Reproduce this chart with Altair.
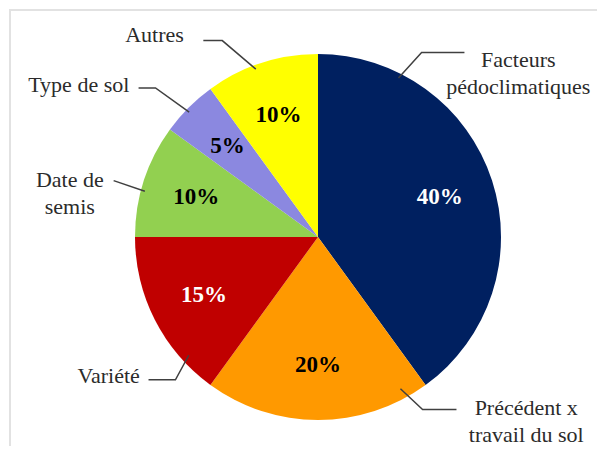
import math
import altair as alt
import pandas as pd

# ---------------- data ----------------
categories = [
    "Facteurs pédoclimatiques",
    "Précédent x travail du sol",
    "Variété",
    "Date de semis",
    "Type de sol",
    "Autres",
]
values = [40, 20, 15, 10, 5, 10]

# ---------------- styling / layout ----------------
colors = ["#002060", "#FF9900", "#C00000", "#92D050", "#8B88E0", "#FFFF00"]
white_text = ["Facteurs pédoclimatiques", "Variété"]
FONT = "Liberation Serif"
W, H = 589, 438            # whole chart (padding 0)
CX, CY, R = 309, 228, 183  # pie centre and radius in the view
R_PCT = 128                # radius of the percentage labels
R_LEAD = 178               # where leader lines touch the pie

# wrapped label text, label centre, leader attachment (fraction along slice)
# and leader elbow/end points (annotation layout, as placed in the original)
label_text = {
    "Facteurs pédoclimatiques": "Facteurs\npédoclimatiques",
    "Précédent x travail du sol": "Précédent x\ntravail du sol",
    "Variété": "Variété",
    "Date de semis": "Date de\nsemis",
    "Type de sol": "Type de sol",
    "Autres": "Autres",
}
label_pos = {
    "Facteurs pédoclimatiques": (511, 52),
    "Précédent x travail du sol": (519, 405),
    "Variété": (100, 372),
    "Date de semis": (61, 173),
    "Type de sol": (70, 77),
    "Autres": (146, 26),
}
leader_frac = {
    "Facteurs pédoclimatiques": 0.19,
    "Précédent x travail du sol": 0.11,
    "Variété": 0.19,
    "Date de semis": 0.39,
    "Type de sol": 0.44,
    "Autres": 0.44,
}
leader_path = {
    "Facteurs pédoclimatiques": [(414, 44), (457, 44)],
    "Précédent x travail du sol": [(415, 406), (449, 406)],
    "Variété": [(167, 376), (140, 376)],
    "Date de semis": [(105, 174)],
    "Type de sol": [(147, 80), (130, 80)],
    "Autres": [(214, 32), (195, 32)],
}

# ---------------- tables ----------------
df = pd.DataFrame({"category": categories, "value": values, "idx": list(range(len(categories)))})
df["pct"] = df["value"].astype(str) + "%"

total = sum(values)
rows = []
cum = 0
for c, v in zip(categories, values):
    a0 = cum / total * 360.0
    a1 = (cum + v) / total * 360.0
    cum += v
    ang = math.radians(a0 + leader_frac[c] * (a1 - a0))
    start = (CX + R_LEAD * math.sin(ang), CY - R_LEAD * math.cos(ang))
    for k, (px, py) in enumerate([start] + leader_path[c]):
        rows.append({"category": c, "k": k, "px": px, "py": py})
lead_df = pd.DataFrame(rows)

lab_df = pd.DataFrame({
    "category": categories,
    "text": [label_text[c] for c in categories],
    "px": [label_pos[c][0] for c in categories],
    "py": [label_pos[c][1] for c in categories],
})

xs = alt.Scale(domain=[0, W], nice=False, zero=False)
ys = alt.Scale(domain=[0, H], nice=False, zero=False, reverse=True)

# ---------------- marks ----------------
frame_df = pd.DataFrame({"a": [0]})
frame_left = alt.Chart(frame_df).mark_rule(color="#e2e2e2", strokeWidth=2).encode(
    x=alt.value(1), y=alt.value(0), y2=alt.value(H)
)
frame_top = alt.Chart(frame_df).mark_rule(color="#e2e2e2", strokeWidth=2).encode(
    x=alt.value(0), x2=alt.value(W), y=alt.value(1)
)

pie = alt.Chart(df).mark_arc(outerRadius=R).encode(
    theta=alt.Theta("value:Q", stack=True),
    order=alt.Order("idx:Q"),
    color=alt.Color("category:N", scale=alt.Scale(domain=categories, range=colors), legend=None),
    x=alt.value(CX),
    y=alt.value(CY),
)

pct = alt.Chart(df).mark_text(
    radius=R_PCT, font=FONT, fontSize=23, fontWeight="bold"
).encode(
    theta=alt.Theta("value:Q", stack=True),
    order=alt.Order("idx:Q"),
    text="pct:N",
    color=alt.condition(
        alt.FieldOneOfPredicate(field="category", oneOf=white_text),
        alt.value("white"),
        alt.value("black"),
    ),
    x=alt.value(CX),
    y=alt.value(CY),
)

leaders = alt.Chart(lead_df).mark_line(color="#404040", strokeWidth=1.5).encode(
    x=alt.X("px:Q", scale=xs, axis=None),
    y=alt.Y("py:Q", scale=ys, axis=None),
    detail="category:N",
    order="k:Q",
)

labels = alt.Chart(lab_df).mark_text(
    font=FONT, fontSize=22, lineBreak="\n", lineHeight=27,
    align="center", baseline="middle", color="#2b2b2b"
).encode(
    x=alt.X("px:Q", scale=xs, axis=None),
    y=alt.Y("py:Q", scale=ys, axis=None),
    text="text:N",
)

chart = alt.layer(frame_left, frame_top, pie, pct, leaders, labels).properties(
    width=W,
    height=H,
    padding=0,
    autosize=alt.AutoSizeParams(type="fit", contains="padding"),
    background="white",
).configure_view(stroke=None)

chart.save("out.html", embed_options={"renderer": "svg", "actions": False})
